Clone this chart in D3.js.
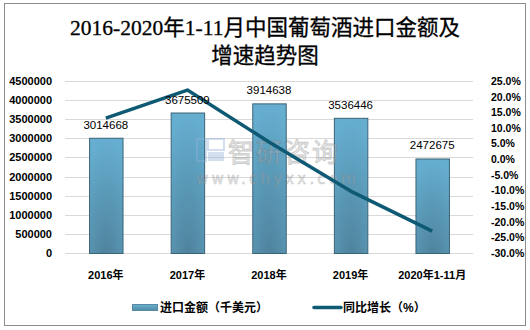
<!DOCTYPE html>
<html><head><meta charset="utf-8">
<script src="https://cdn.jsdelivr.net/npm/d3@7/dist/d3.min.js"></script>
<style>body{margin:0;background:#fff}svg{display:block}</style>
</head><body>
<svg id="c" width="530" height="330"></svg>
<script>
const categories = ["2016年","2017年","2018年","2019年","2020年1-11月"];
const importValues = [3014668, 3675509, 3914638, 3536446, 2472675];
const growthRates = [13.1, 22.1, 5.5, -10.2, -23.0];
const leftTicks = [0,500000,1000000,1500000,2000000,2500000,3000000,3500000,4000000,4500000];
const rightTicks = [-30,-25,-20,-15,-10,-5,0,5,10,15,20,25];
const titleLines = ["2016-2020年1-11月中国葡萄酒进口金额及","增速趋势图"];
const legendLabels = ["进口金额（千美元）","同比增长（%）"];

const svg = d3.select("#c");
const W=530,H=330;
const m = {l:65, r:473, t:81, b:253};
const font = "'Liberation Sans', Arial, 'Noto Sans CJK SC', sans-serif";

svg.append("rect").attr("x",4.5).attr("y",3.5).attr("width",521).attr("height",322)
  .attr("fill","#fff").attr("stroke","#8c8c8c").attr("stroke-width",1);

const x = d3.scaleBand().domain(categories).range([m.l,m.r]).paddingInner(0.59).paddingOuter(0.295);
const y = d3.scaleLinear().domain([0,4500000]).range([m.b,m.t]);
const y2 = d3.scaleLinear().domain([-30,25]).range([m.b,m.t]);

const defs = svg.append("defs");
const g1 = defs.append("radialGradient").attr("id","barg").attr("cx","0.5").attr("cy","1.1").attr("r","1.1");
g1.append("stop").attr("offset","0").attr("stop-color","#4e7f98");
g1.append("stop").attr("offset","0.6").attr("stop-color","#5b9bb9");
g1.append("stop").attr("offset","1").attr("stop-color","#66aed0");
const g2 = defs.append("linearGradient").attr("id","legg").attr("x1",0).attr("y1",0).attr("x2",0).attr("y2",1);
g2.append("stop").attr("offset","0").attr("stop-color","#6ab0d0");
g2.append("stop").attr("offset","1").attr("stop-color","#4f8aa6");

// gridlines
svg.append("g").selectAll("line").data(leftTicks).join("line")
  .attr("x1",m.l).attr("x2",m.r).attr("y1",d=>Math.round(y(d))+0.5).attr("y2",d=>Math.round(y(d))+0.5)
  .attr("stroke","#d9d9d9").attr("stroke-width",1);

// left axis
const la = svg.append("g").attr("transform",`translate(${m.l},0)`)
  .call(d3.axisLeft(y).tickValues(leftTicks).tickFormat(d3.format("d")).tickSize(0).tickPadding(13));
la.select(".domain").remove();
la.selectAll("text").attr("font-family",font).attr("font-size",11).attr("font-weight","bold").attr("fill","#000");

// right axis
const ra = svg.append("g").attr("transform",`translate(${m.r},0)`)
  .call(d3.axisRight(y2).tickValues(rightTicks).tickFormat(d=>d.toFixed(1)+"%").tickSize(0).tickPadding(18));
ra.select(".domain").remove();
ra.selectAll("text").attr("font-family",font).attr("font-size",10.5).attr("font-weight","bold").attr("fill","#000");

// bars
svg.append("g").selectAll("rect").data(importValues).join("rect")
  .attr("x",(d,i)=>x(categories[i])+0.5).attr("y",d=>y(d)+0.5)
  .attr("width",x.bandwidth()).attr("height",d=>m.b-y(d))
  .attr("fill","url(#barg)").attr("stroke","#3b6376").attr("stroke-width",1);

// watermark (on top of bars)
const wm = svg.append("g").attr("opacity",0.4);
wm.append("rect").attr("x",197).attr("y",139).attr("width",9).attr("height",22).attr("fill","none").attr("stroke","#8fb0d8").attr("stroke-width",2);
wm.append("rect").attr("x",208).attr("y",139).attr("width",16).attr("height",11).attr("fill","none").attr("stroke","#8fb0d8").attr("stroke-width",2);
wm.append("rect").attr("x",208).attr("y",152).attr("width",16).attr("height",9).attr("fill","#8fb0d8");
wm.append("text").attr("x",228).attr("y",162).attr("font-family","'Noto Sans CJK SC', sans-serif").attr("font-size",26).attr("fill","#c8c8c8").attr("stroke","#777").attr("stroke-width",0.8).attr("letter-spacing",2).text("智研咨询");
wm.append("text").attr("x",196).attr("y",184).attr("font-family","'DejaVu Sans', sans-serif").attr("font-size",15).attr("fill","#bbb").attr("stroke","#777").attr("stroke-width",0.5).attr("letter-spacing",3.2).text("www.chyxx.com");

// line
const line = d3.line().x((d,i)=>x(categories[i])+x.bandwidth()/2).y(d=>y2(d));
svg.append("path").datum(growthRates).attr("d",line).attr("fill","none")
  .attr("stroke","#0e5a74").attr("stroke-width",3.5).attr("stroke-linejoin","round");

// data labels
svg.append("g").selectAll("text").data(importValues).join("text")
  .attr("x",(d,i)=>x(categories[i])+x.bandwidth()/2).attr("y",d=>y(d)-9)
  .attr("text-anchor","middle").attr("font-family",font).attr("font-size",11.5).attr("fill","#000")
  .text(d=>d);

// category labels
svg.append("g").selectAll("text").data(categories).join("text")
  .attr("x",d=>x(d)+x.bandwidth()/2).attr("y",279)
  .attr("text-anchor","middle").attr("font-family",font).attr("font-size",11).attr("font-weight","bold").attr("fill","#000")
  .text(d=>d);

// title
svg.append("g").selectAll("text").data(titleLines).join("text")
  .attr("x",W/2).attr("y",(d,i)=>35+i*28).attr("text-anchor","middle")
  .attr("font-family","'Liberation Serif', 'Noto Sans CJK SC', serif").attr("font-size",21.5).attr("fill","#000")
  .attr("stroke","#000").attr("stroke-width",0.3)
  .text(d=>d);

// legend
const lg = svg.append("g");
lg.append("rect").attr("x",132.5).attr("y",304.5).attr("width",25).attr("height",6).attr("fill","url(#legg)").attr("stroke","#5a8aa2").attr("stroke-width",1);
lg.append("text").attr("x",160).attr("y",312).attr("font-family",font).attr("font-size",12).attr("font-weight","bold").text(legendLabels[0]);
lg.append("line").attr("x1",314).attr("x2",341).attr("y1",307.5).attr("y2",307.5).attr("stroke","#0e5a74").attr("stroke-width",3.5).attr("stroke-linecap","round");
lg.append("text").attr("x",343).attr("y",312).attr("font-family",font).attr("font-size",12).attr("font-weight","bold").text(legendLabels[1]);
</script>
</body></html>
